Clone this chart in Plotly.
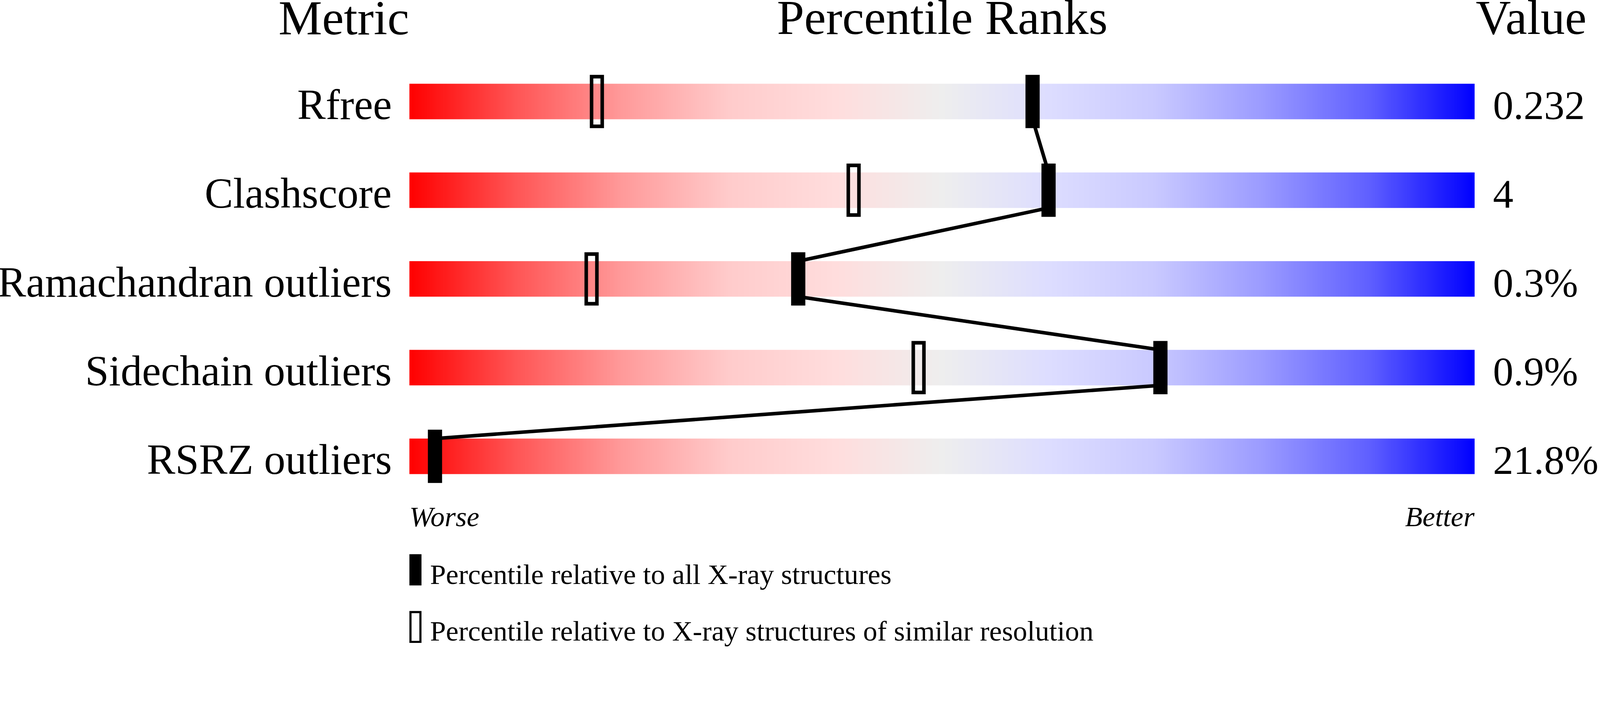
import numpy as np
import plotly.graph_objects as go

# ---------------- data ----------------
metrics = ["Rfree", "Clashscore", "Ramachandran outliers", "Sidechain outliers", "RSRZ outliers"]
values = ["0.232", "4", "0.3%", "0.9%", "21.8%"]
pct_all = [58.5, 60.0, 36.5, 70.5, 2.4]          # percentile vs all X-ray structures
pct_res = [17.6, 41.7, 17.1, 47.8, None]         # percentile vs similar resolution
header_left = "Metric"
header_mid = "Percentile Ranks"
header_right = "Value"
worse_label = "Worse"
better_label = "Better"
legend_all = "Percentile relative to all X-ray structures"
legend_res = "Percentile relative to X-ray structures of similar resolution"

# ---------------- layout constants (in screenshot pixels) ----------------
W, H = 4506, 1824                 # screenshot size
S = 4096 / 4506                   # css px per screenshot px (device scale ~1.1)
BAR_L, BAR_R = 1153, 4153
ROW0, ROW_STEP = 286, 250
FONT = "Liberation Serif, Times New Roman, serif"

colorscale = [
    [0.00, "#FF0000"], [0.10, "#FF5555"], [0.20, "#FF9A9A"], [0.30, "#FFCBCB"],
    [0.40, "#FFDDDD"], [0.50, "#EEEEEE"], [0.60, "#DDDDFF"], [0.70, "#C9C9FF"],
    [0.80, "#9B9BFF"], [0.90, "#6060FF"], [1.00, "#0000FF"],
]

def px_x(x):
    return x / W

def px_y(y):
    return 1 - y / H

px_per_unit = (BAR_R - BAR_L) / 100.0
x_unit = lambda p: p / px_per_unit       # pixels -> percentile units
y_unit = lambda p: p / ROW_STEP           # pixels -> row units

fig = go.Figure()

# gradient bars
edges = np.linspace(0, 100, 1001)
centers = (edges[:-1] + edges[1:]) / 2
half_bar = y_unit(50)
for i, m in enumerate(metrics):
    fig.add_trace(go.Heatmap(
        x=edges, y=[i - half_bar, i + half_bar], z=[centers],
        zmin=0, zmax=100, colorscale=colorscale, showscale=False,
        hoverinfo="skip", zsmooth=False,
    ))

# connecting line between the filled markers (bottom of one bar to top of next)
lx, ly = [], []
for i in range(len(metrics) - 1):
    lx += [pct_all[i], pct_all[i + 1], None]
    ly += [i + half_bar, i + 1 - half_bar, None]
fig.add_trace(go.Scatter(x=lx, y=ly, mode="lines", line=dict(color="black", width=10 * S),
                         hoverinfo="skip", showlegend=False))

shapes = []
mw = x_unit(40)
mh = y_unit(150)
for i in range(len(metrics)):
    p = pct_res[i]
    if p is not None:
        shapes.append(dict(type="rect", xref="x", yref="y", layer="above",
                           x0=p - x_unit(15), x1=p + x_unit(15),
                           y0=i - y_unit(70), y1=i + y_unit(70),
                           line=dict(color="black", width=10 * S), fillcolor="rgba(0,0,0,0)"))
for i in range(len(metrics)):
    p = pct_all[i]
    shapes.append(dict(type="rect", xref="x", yref="y", layer="above",
                       x0=p - mw / 2, x1=p + mw / 2, y0=i - mh / 2, y1=i + mh / 2,
                       line=dict(width=0), fillcolor="black"))

# legend glyphs
shapes.append(dict(type="rect", xref="paper", yref="paper",
                   x0=px_x(1153), x1=px_x(1187), y0=px_y(1650), y1=px_y(1562),
                   line=dict(width=0), fillcolor="black"))
shapes.append(dict(type="rect", xref="paper", yref="paper",
                   x0=px_x(1156), x1=px_x(1184), y0=px_y(1809), y1=px_y(1725),
                   line=dict(color="black", width=6 * S), fillcolor="rgba(0,0,0,0)"))

annotations = []

def text(x, baseline, s, size, xanchor, italic=False):
    annotations.append(dict(
        xref="paper", yref="paper", x=px_x(x), y=px_y(baseline - 0.3375 * size),
        xanchor=xanchor, yanchor="middle", showarrow=False, text=s,
        font=dict(family=FONT, size=size * S, color="black",
                  style="italic" if italic else "normal"),
        borderpad=0, borderwidth=0,
    ))

text(1152, 97, header_left, 138, "right")
text((BAR_L + BAR_R) / 2, 95, header_mid, 138, "center")
text(4156, 96, header_right, 137, "left")
for i, (m, v) in enumerate(zip(metrics, values)):
    base = ROW0 + 50 + i * ROW_STEP
    text(1103, base, m, 120, "right")
    text(4205, base, v, 115, "left")
text(BAR_L, 1483, worse_label, 80, "left", italic=True)
text(BAR_R, 1483, better_label, 80, "right", italic=True)
text(1211, 1646, legend_all, 80, "left")
text(1211, 1805, legend_res, 80, "left")

fig.update_layout(
    width=round(W * S), height=round(H * S), margin=dict(l=0, r=0, t=0, b=0),
    paper_bgcolor="white", plot_bgcolor="white", showlegend=False,
    xaxis=dict(domain=[px_x(BAR_L), px_x(BAR_R)], range=[0, 100], visible=False, fixedrange=True),
    yaxis=dict(domain=[0, 1], range=[(H - ROW0) / ROW_STEP, -ROW0 / ROW_STEP],
               visible=False, fixedrange=True),
    shapes=shapes, annotations=annotations,
)

fig.write_html(
    "out.html",
    config={"displayModeBar": False},
    post_script="document.body.style.margin='0px';document.body.style.overflow='hidden';",
)
